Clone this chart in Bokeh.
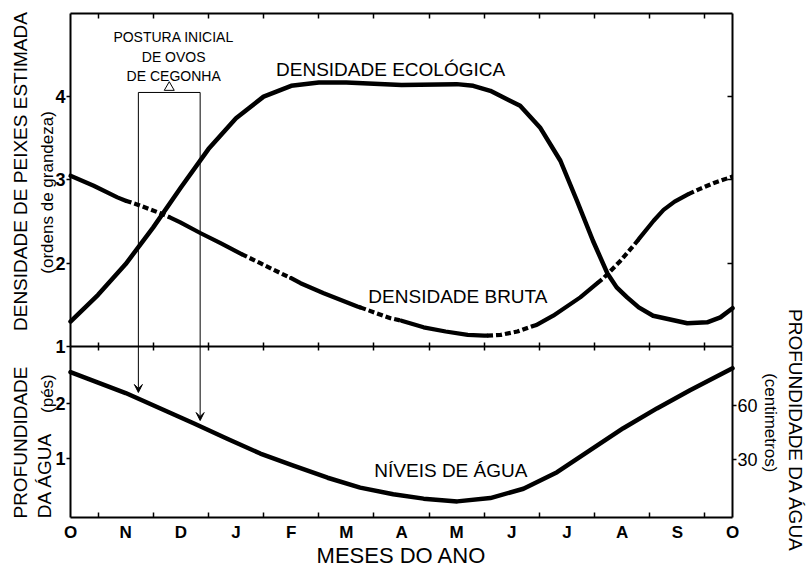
import math
from bokeh.plotting import figure
from bokeh.models import Range1d, LinearAxis, FixedTicker, Label, Arrow, VeeHead
from bokeh.embed import file_html
from bokeh.resources import INLINE

FONT = "Liberation Sans"

# ---------------- data ----------------
month_labels = ["O", "N", "D", "J", "F", "M", "A", "M", "J", "J", "A", "S", "O"]
month_pos = list(range(13))
half_months = [i + 0.5 for i in range(12)]

dens_ticks = [1, 2, 3, 4]
ft_ticks = [1, 2]
cm_ticks = [30, 60]

# Densidade ecológica (ordens de grandeza)
eco_m = [0.0, 0.5, 1.0, 1.5, 2.0, 2.5, 3.0, 3.5, 4.0, 4.5, 5.0, 6.0, 7.0, 7.3,
         7.61, 8.15, 8.51, 8.88, 9.18, 9.47, 9.73, 9.9, 10.09, 10.3, 10.56, 11.18, 11.54,
         11.78, 12.0]
eco_v = [1.30, 1.62, 1.99, 2.43, 2.91, 3.37, 3.74, 4.00, 4.13, 4.17, 4.17, 4.14, 4.15, 4.13,
         4.07, 3.89, 3.63, 3.23, 2.75, 2.27, 1.88, 1.71, 1.59, 1.47, 1.37, 1.28, 1.29,
         1.35, 1.46]

# Densidade bruta
brute_m = [0.0, 0.42, 0.85, 1.0, 1.23, 1.63, 1.8, 1.99, 2.36, 2.72, 3.1, 3.44, 3.81, 4.0,
           4.17, 4.59, 5.2, 5.25, 5.8, 6.0, 6.4, 6.8, 7.2, 7.5, 7.55, 7.8, 8.1, 8.4, 8.45,
           8.75, 9.24, 9.55, 9.66, 9.97, 10.28, 10.3, 10.57, 10.75, 10.95, 11.2, 11.4,
           11.65, 12.0]
brute_v = [3.05, 2.93, 2.79, 2.75, 2.70, 2.60, 2.55, 2.49, 2.36, 2.24, 2.11, 2.00, 1.88, 1.82,
           1.76, 1.64, 1.48, 1.47, 1.34, 1.31, 1.23, 1.18, 1.14, 1.13, 1.13, 1.14, 1.18,
           1.25, 1.26, 1.37, 1.59, 1.76, 1.82, 2.03, 2.27, 2.29, 2.51, 2.64, 2.74, 2.83,
           2.89, 2.96, 3.04]
brute_dashed = [(1.0, 1.8), (3.1, 4.0), (5.25, 6.0), (7.55, 8.45), (9.55, 10.3), (11.2, 12.0)]

# Níveis de água (pés)
water_m = [0.0, 0.5, 1.0, 1.63, 2.23, 2.84, 3.44, 4.04, 4.66, 5.25, 5.85, 6.4, 7.01,
           7.61, 8.21, 8.82, 9.42, 10.02, 10.63, 11.23, 12.0]
water_ft = [2.57, 2.38, 2.19, 1.91, 1.64, 1.36, 1.09, 0.87, 0.65, 0.47, 0.35, 0.27, 0.22,
            0.28, 0.45, 0.75, 1.15, 1.55, 1.91, 2.24, 2.64]

# Postura inicial de ovos de cegonha
egg_start, egg_end, egg_box_top = 1.23, 2.35, 4.05
egg_arrow_tips = [2.20, 1.69]

# ---------------- scales (frame covers the whole canvas) ----------------
W, H = 806, 572
X_RANGE = (-1.269, 13.341)      # months
DENS_RANGE = (-1.713, 5.154)    # density (orders of magnitude)
FT_RANGE = (-1.073, 9.327)      # feet
CM_PER_FT = 30.48

DENS_PANEL = (1.0, 5.0)
FT_BOTTOM = -0.073


def ft_to_dens(f):
    return DENS_RANGE[0] + (f - FT_RANGE[0]) / (FT_RANGE[1] - FT_RANGE[0]) * (DENS_RANGE[1] - DENS_RANGE[0])


def dens_to_ft(d):
    return FT_RANGE[0] + (d - DENS_RANGE[0]) / (DENS_RANGE[1] - DENS_RANGE[0]) * (FT_RANGE[1] - FT_RANGE[0])


ft_divider = dens_to_ft(DENS_PANEL[0])
FT_PANEL = (FT_BOTTOM, ft_divider)

p = figure(width=W, height=H, x_range=Range1d(*X_RANGE), y_range=Range1d(*DENS_RANGE),
           output_backend="svg", toolbar_location=None,
           x_axis_location=None, y_axis_location=None,
           min_border_left=0, min_border_right=0, min_border_top=0, min_border_bottom=0)
p.extra_y_ranges = {"ft": Range1d(*FT_RANGE),
                    "cm": Range1d(FT_RANGE[0] * CM_PER_FT, FT_RANGE[1] * CM_PER_FT)}
p.xgrid.visible = False
p.ygrid.visible = False
p.outline_line_color = None
p.background_fill_color = "white"
p.border_fill_color = "white"


def add_axis(side, **kw):
    opts = dict(axis_line_color="black", axis_line_width=2, major_tick_line_color="black",
                minor_tick_line_color="black", major_tick_line_width=1.5,
                minor_tick_line_width=1.5, major_label_text_font=FONT,
                major_label_text_color="black", major_tick_in=0, major_tick_out=0,
                minor_tick_in=0, minor_tick_out=0)
    opts.update(kw)
    p.add_layout(LinearAxis(**opts), side)


# left axis, top panel
add_axis("left", ticker=FixedTicker(ticks=dens_ticks), fixed_location=0, bounds=DENS_PANEL,
         major_tick_out=4, major_label_standoff=1, major_label_text_font_size="18px",
         major_label_text_font_style="bold")
# left axis, bottom panel (feet)
add_axis("left", y_range_name="ft", ticker=FixedTicker(ticks=ft_ticks), fixed_location=0,
         bounds=FT_PANEL, major_tick_out=4, major_label_standoff=1,
         major_label_text_font_size="18px", major_label_text_font_style="bold")
# right axis, bottom panel (cm)
add_axis("right", y_range_name="cm", ticker=FixedTicker(ticks=cm_ticks), fixed_location=12,
         bounds=(FT_PANEL[0] * CM_PER_FT, FT_PANEL[1] * CM_PER_FT),
         major_tick_out=4, major_label_standoff=1, major_label_text_font_size="18px")
# right side, top panel (inner ticks only)
add_axis("right", ticker=FixedTicker(ticks=dens_ticks[1:]), fixed_location=12,
         bounds=DENS_PANEL, major_tick_in=5, major_label_text_alpha=0)
# top border
add_axis("above", ticker=FixedTicker(ticks=[], minor_ticks=half_months),
         fixed_location=DENS_PANEL[1], bounds=(0, 12), minor_tick_in=5)
# divider between panels
add_axis("below", ticker=FixedTicker(ticks=[], minor_ticks=half_months),
         fixed_location=DENS_PANEL[0], bounds=(0, 12), minor_tick_in=4, minor_tick_out=4)
# months axis
add_axis("below", ticker=FixedTicker(ticks=month_pos, minor_ticks=half_months),
         fixed_location=ft_to_dens(FT_BOTTOM), bounds=(0, 12), minor_tick_in=5,
         major_label_standoff=5, major_label_text_font_size="17px",
         major_label_text_font_style="bold",
         major_label_overrides={i: month_labels[i] for i in month_pos})

# ---------------- curves ----------------
p.line(eco_m, eco_v, line_width=4.5, line_color="black", line_join="round", line_cap="round")

solid_xs, solid_ys, dash_xs, dash_ys = [], [], [], []
cur = None
cx, cy = [], []
for i in range(len(brute_m) - 1):
    mid = (brute_m[i] + brute_m[i + 1]) / 2
    st = any(a <= mid <= b for a, b in brute_dashed)
    if st != cur:
        if cx:
            (dash_xs if cur else solid_xs).append(cx)
            (dash_ys if cur else solid_ys).append(cy)
        cx, cy = [brute_m[i]], [brute_v[i]]
        cur = st
    cx.append(brute_m[i + 1])
    cy.append(brute_v[i + 1])
if cx:
    (dash_xs if cur else solid_xs).append(cx)
    (dash_ys if cur else solid_ys).append(cy)

p.multi_line(solid_xs, solid_ys, line_width=4.2, line_color="black",
             line_join="round", line_cap="round")
p.multi_line(dash_xs, dash_ys, line_width=4.2, line_color="black",
             line_dash="6 3", line_join="round", line_cap="butt")

p.line(water_m, water_ft, y_range_name="ft", line_width=4.5, line_color="black",
       line_join="round", line_cap="round")

# egg-laying box
p.line([egg_start, egg_start, egg_end, egg_end],
       [DENS_PANEL[0], egg_box_top, egg_box_top, DENS_PANEL[0]],
       line_width=1, line_color="black")
p.scatter([(egg_start + egg_end) / 2], [egg_box_top + 0.06], marker="triangle", size=10,
          fill_color="white", line_color="black", line_width=1)
for xm, tip in zip([egg_start, egg_end], egg_arrow_tips):
    p.add_layout(Arrow(x_start=xm, y_start=ft_divider, x_end=xm, y_end=tip,
                       y_range_name="ft", line_width=1, line_color="black",
                       end=VeeHead(size=8, line_width=1, line_color="black",
                                   fill_color="black")))


# ---------------- texts ----------------
def lab(x, y, text, size, angle=0.0, rng="default", style="normal"):
    p.add_layout(Label(x=x, y=y, text=text, y_range_name=rng, angle=angle,
                       text_font=FONT, text_font_size=size, text_font_style=style,
                       text_align="center", text_baseline="middle", text_color="black"))


lab(5.85, 4.33, "DENSIDADE  ECOLÓGICA", "19px")
lab(7.07, 1.60, "DENSIDADE  BRUTA", "19px")
lab(6.99, 0.78, "NÍVEIS  DE  ÁGUA", "19px", rng="ft")
lab(1.87, 4.71, "POSTURA INICIAL", "14px")
lab(1.87, 4.47, "DE OVOS", "14px")
lab(1.87, 4.25, "DE CEGONHA", "14px")

lab(-0.906, 3.10, "DENSIDADE DE PEIXES ESTIMADA", "19px", angle=math.pi / 2)
lab(-0.42, 2.85, "(ordens de grandeza)", "17px", angle=math.pi / 2)
lab(-0.906, 1.29, "PROFUNDIDADE", "19px", angle=math.pi / 2, rng="ft")
lab(-0.47, 0.69, "DA ÁGUA", "19px", angle=math.pi / 2, rng="ft")
lab(-0.42, 2.18, "(pés)", "17px", angle=math.pi / 2, rng="ft")

lab(12.68, 1.65, "(centimetros)", "17px", angle=-math.pi / 2, rng="ft")
lab(13.15, 1.51, "PROFUNDIDADE DA ÁGUA", "19px", angle=-math.pi / 2, rng="ft")

lab(6.0, -0.76, "MESES DO ANO", "22px", rng="ft")

open("out.html", "w").write(file_html(p, INLINE))
